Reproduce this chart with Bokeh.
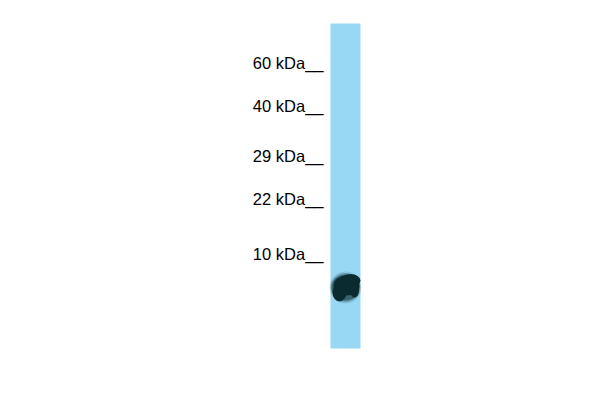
from bokeh.plotting import figure
from bokeh.embed import file_html
from bokeh.resources import INLINE
from bokeh.models import Range1d
from bokeh.core.properties import value

# Data
marker_labels = ["60 kDa__", "40 kDa__", "29 kDa__", "22 kDa__", "10 kDa__"]
marker_pos = [62, 105, 155, 198, 253]   # migration position (px from top)
lane_top, lane_bottom = 23, 348
lane_left, lane_right = 330, 360
band_center = 287
band_x = 345

p = figure(width=584, height=384, output_backend="svg", toolbar_location=None,
           x_range=Range1d(0, 584), y_range=Range1d(384, 0), min_border=0)
p.axis.visible = False
p.grid.visible = False
p.outline_line_color = None
p.background_fill_color = "white"
p.border_fill_color = "white"

# lane
p.quad(left=[lane_left], right=[lane_right], top=[lane_top], bottom=[lane_bottom],
       fill_color="#98d8f4", line_color=None)

# band (soft edges via stacked ellipses)
band_color = "#0a2c30"
for w, h, a in [(32, 32, 0.12), (30, 29, 0.25), (28, 26, 0.5)]:
    p.ellipse(x=[band_x], y=[band_center], width=w, height=h,
              fill_color=band_color, fill_alpha=a, line_color=None)
p.ellipse(x=[band_x + 1], y=[band_center - 2], width=26, height=20,
          fill_color=band_color, line_color=None)
p.ellipse(x=[band_x - 6], y=[band_center + 5], width=14, height=18,
          fill_color=band_color, line_color=None)
p.ellipse(x=[band_x + 5], y=[band_center - 7], width=20, height=13,
          fill_color=band_color, line_color=None)
p.ellipse(x=[band_x + 9], y=[band_center + 3], width=9, height=14,
          fill_color=band_color, line_color=None)

p.text(x=[323] * len(marker_labels), y=marker_pos, text=marker_labels,
       text_align="right", text_baseline="middle",
       text_font=value("Liberation Sans"), text_font_size="16.5px",
       text_color="black")

open("out.html", "w").write(file_html(p, INLINE))
